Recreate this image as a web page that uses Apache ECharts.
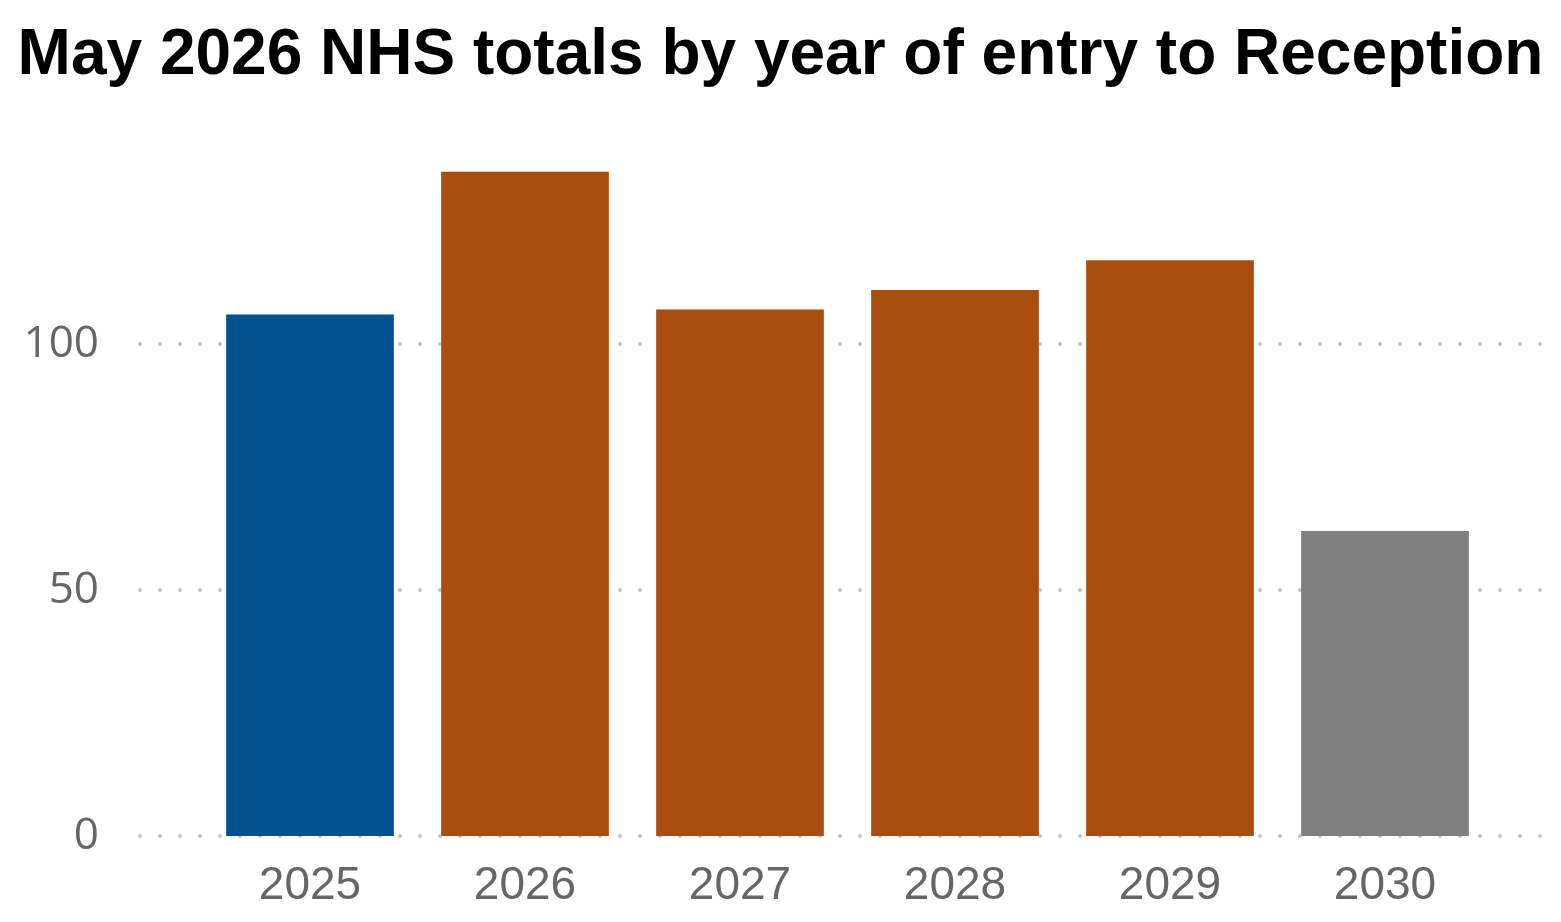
<!DOCTYPE html>
<html>
<head>
<meta charset="utf-8">
<script src="https://cdn.jsdelivr.net/npm/echarts@6/dist/echarts.min.js"></script>
<style>
html,body{margin:0;padding:0;background:#fff;}
#chart{width:1561px;height:922px;}
</style>
</head>
<body>
<div id="chart"></div>
<script>
const titleText = 'May 2026 NHS totals by year of entry to Reception';
const categories = ['2025', '2026', '2027', '2028', '2029', '2030'];
const totals = [106, 135, 107, 111, 117, 62];
const barColors = ['#03528F', '#A94E0F', '#A94E0F', '#A94E0F', '#A94E0F', '#808080'];
const yTicks = [0, 50, 100];

const chart = echarts.init(document.getElementById('chart'), null, {renderer: 'canvas'});

const yMin = 0, yMax = 150, yInterval = 50;
const gridTop = 98, gridBottom = 86;

chart.setOption({
  animation: false,
  backgroundColor: '#ffffff',
  title: {
    text: titleText,
    left: 'center',
    top: 19,
    textStyle: {
      fontFamily: 'Liberation Sans, Arial, sans-serif',
      fontWeight: 'bold',
      fontSize: 64,
      color: '#000000'
    }
  },
  grid: [
    {left: 202.5, right: 68.5, top: gridTop, bottom: gridBottom, containLabel: false},
    {left: 140, right: 21, top: gridTop, bottom: gridBottom, containLabel: false}
  ],
  xAxis: [
    {
      type: 'category',
      gridIndex: 0,
      data: categories,
      axisLine: {show: false},
      axisTick: {show: false},
      axisLabel: {
        margin: 27,
        fontFamily: 'Liberation Sans, Arial, sans-serif',
        fontSize: 46,
        color: '#666666'
      }
    },
    {
      type: 'value',
      gridIndex: 1,
      min: 0, max: 1,
      show: false
    }
  ],
  yAxis: [
    {
      type: 'value',
      gridIndex: 0,
      min: yMin, max: yMax, interval: yInterval,
      show: false,
      splitLine: {show: false}
    },
    {
      type: 'value',
      gridIndex: 1,
      min: yMin, max: yMax, interval: yInterval,
      axisLine: {show: false},
      axisTick: {show: false},
      axisLabel: {
        showMaxLabel: false,
        margin: 41,
        fontFamily: 'Open Sans, Noto Sans, sans-serif',
        fontSize: 44,
        color: '#666666',
        formatter: v => (yTicks.includes(v) ? String(v) : '')
      },
      splitLine: {
        show: true,
        showMaxLine: false,
        lineStyle: {color: '#c4c4c4', width: 4, type: [0.01, 19.99], cap: 'round'}
      }
    }
  ],
  series: [
    {
      type: 'bar',
      xAxisIndex: 0,
      yAxisIndex: 0,
      barWidth: '78%',
      z: 5,
      data: totals.map((v, i) => ({value: v, itemStyle: {color: barColors[i]}}))
    }
  ]
});
</script>
</body>
</html>
